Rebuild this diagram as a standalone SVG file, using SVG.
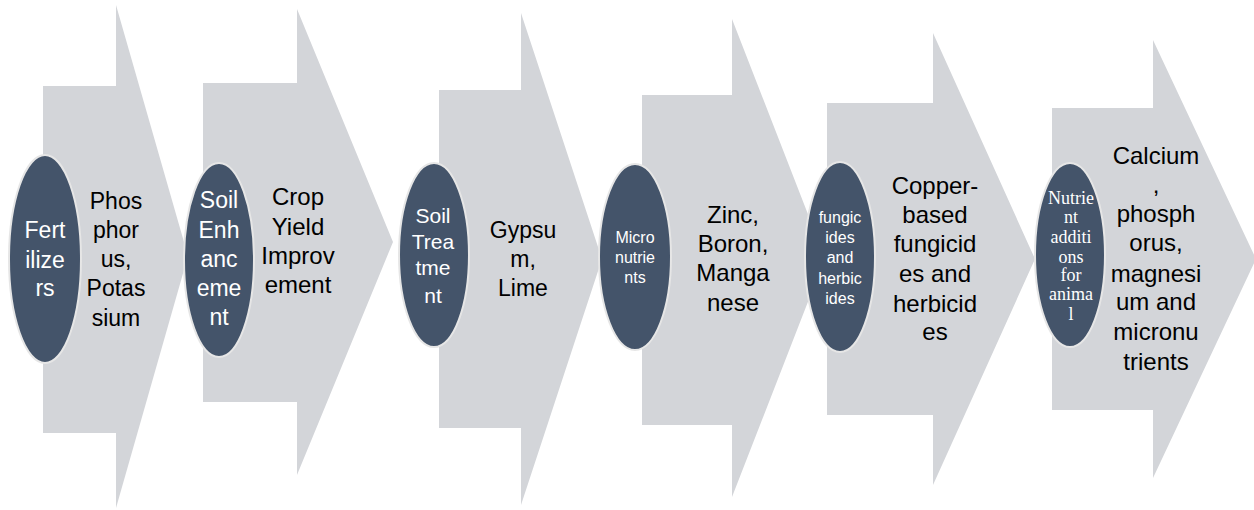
<svg xmlns="http://www.w3.org/2000/svg" width="1254" height="510" viewBox="0 0 1254 510">
<style>
.arr{fill:#D3D5D9;stroke:none}
.ell{fill:#44546A;stroke:#E6E6E6;stroke-width:2}
.lbl{font-family:"Liberation Sans",Arial,sans-serif;fill:#000;text-anchor:middle}
.in{font-family:"Liberation Sans",Arial,sans-serif;fill:#fff;text-anchor:middle}
.ser{font-family:"Liberation Serif","Times New Roman",serif;fill:#fff;text-anchor:middle}
</style>
<rect width="1254" height="510" fill="#fff"/>
<g id="step1">
<path class="arr" d="M43,86 H116 V5 L188,256 L116,508 V433 H43 Z"/>
<ellipse class="ell" cx="45" cy="259" rx="36" ry="104"/>
<text class="in" font-size="23" x="45"><tspan x="45" y="238">Fert</tspan><tspan x="45" y="268">ilize</tspan><tspan x="45" y="296">rs</tspan></text>
<text class="lbl" font-size="23"><tspan x="116" y="209">Phos</tspan><tspan x="116" y="238">phor</tspan><tspan x="116" y="267">us,</tspan><tspan x="116" y="296">Potas</tspan><tspan x="116" y="326">sium</tspan></text>
</g>
<g id="step2">
<path class="arr" d="M203,83 H297 V9 L393,242 L297,475 V402 H203 Z"/>
<ellipse class="ell" cx="219" cy="260" rx="35" ry="97"/>
<text class="in" font-size="23"><tspan x="219" y="208">Soil</tspan><tspan x="219" y="238">Enh</tspan><tspan x="219" y="267">anc</tspan><tspan x="219" y="296">eme</tspan><tspan x="219" y="325">nt</tspan></text>
<text class="lbl" font-size="24"><tspan x="298" y="205">Crop</tspan><tspan x="298" y="235">Yield</tspan><tspan x="298" y="264">Improv</tspan><tspan x="298" y="293">ement</tspan></text>
</g>
<g id="step3">
<path class="arr" d="M439,90 H521 V13 L602,259 L521,505 V428 H439 Z"/>
<ellipse class="ell" cx="434" cy="255" rx="35" ry="92"/>
<text class="in" font-size="21"><tspan x="433" y="223">Soil</tspan><tspan x="433" y="249">Trea</tspan><tspan x="433" y="275">tme</tspan><tspan x="433" y="303">nt</tspan></text>
<text class="lbl" font-size="23"><tspan x="523" y="238">Gypsu</tspan><tspan x="523" y="267">m,</tspan><tspan x="523" y="296">Lime</tspan></text>
</g>
<g id="step4">
<path class="arr" d="M642,95 H732 V19 L825,258 L732,497 V425 H642 Z"/>
<ellipse class="ell" cx="635" cy="257" rx="36" ry="93"/>
<text class="in" font-size="16"><tspan x="635" y="243">Micro</tspan><tspan x="635" y="263">nutrie</tspan><tspan x="635" y="283">nts</tspan></text>
<text class="lbl" font-size="24"><tspan x="733" y="223">Zinc,</tspan><tspan x="733" y="252">Boron,</tspan><tspan x="733" y="281">Manga</tspan><tspan x="733" y="311">nese</tspan></text>
</g>
<g id="step5">
<path class="arr" d="M827,103 H933 V33 L1035,259 L933,485 V415 H827 Z"/>
<ellipse class="ell" cx="840" cy="257" rx="35" ry="95"/>
<text class="in" font-size="16"><tspan x="840" y="223">fungic</tspan><tspan x="840" y="243">ides</tspan><tspan x="840" y="263">and</tspan><tspan x="840" y="284">herbic</tspan><tspan x="840" y="304">ides</tspan></text>
<text class="lbl" font-size="24"><tspan x="935" y="194">Copper-</tspan><tspan x="935" y="223">based</tspan><tspan x="935" y="252">fungicid</tspan><tspan x="935" y="282">es and</tspan><tspan x="935" y="312">herbicid</tspan><tspan x="935" y="340">es</tspan></text>
</g>
<g id="step6">
<path class="arr" d="M1052,108 H1153 V40 L1256,259 L1153,478 V410 H1052 Z"/>
<ellipse class="ell" cx="1070" cy="255" rx="35" ry="92"/>
<text class="ser" font-size="18"><tspan x="1071" y="204">Nutrie</tspan><tspan x="1071" y="223">nt</tspan><tspan x="1071" y="243">additi</tspan><tspan x="1071" y="263">ons</tspan><tspan x="1071" y="281">for</tspan><tspan x="1071" y="300">anima</tspan><tspan x="1071" y="320">l</tspan></text>
<text class="lbl" font-size="24"><tspan x="1156" y="164">Calcium</tspan><tspan x="1156" y="193">,</tspan><tspan x="1156" y="222">phosph</tspan><tspan x="1156" y="251">orus,</tspan><tspan x="1156" y="282">magnesi</tspan><tspan x="1156" y="310">um and</tspan><tspan x="1156" y="340">micronu</tspan><tspan x="1156" y="370">trients</tspan></text>
</g>
<g id="connectors"></g>
</svg>
